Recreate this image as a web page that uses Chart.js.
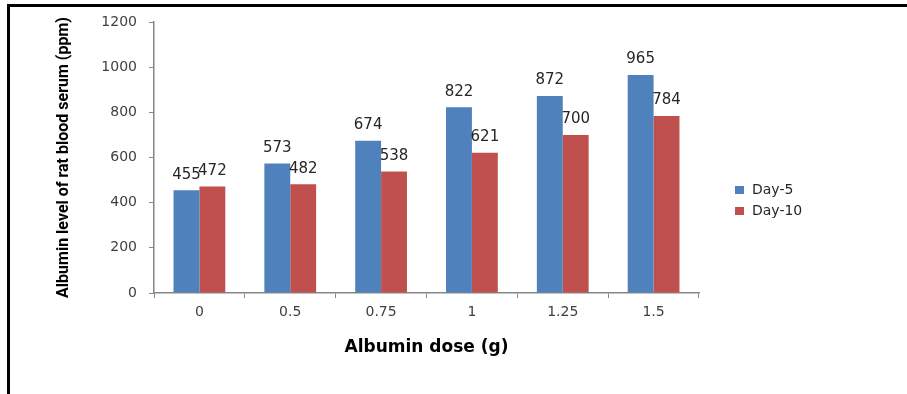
<!DOCTYPE html>
<html>
<head>
<meta charset="utf-8">
<script src="https://cdn.jsdelivr.net/npm/chart.js@4/dist/chart.umd.min.js"></script>
<style>
  html, body { margin: 0; padding: 0; background: #fff; }
  #wrap { width: 907px; height: 394px; }
</style>
</head>
<body>
<div id="wrap"><canvas id="myChart" width="907" height="394"></canvas></div>
<script>
const doses = ['0', '0.5', '0.75', '1', '1.25', '1.5']
const day5 = [455, 573, 674, 822, 872, 965]
const day10 = [472, 482, 538, 621, 700, 784]
const seriesNames = ['Day-5', 'Day-10']
const colors = ['#4F81BD', '#C0504D']

const tickFont = { family: 'DejaVu Sans', size: 14 }

// white background + the black frame lines at top and left
const framePlugin = {
  id: 'frame',
  beforeDraw(chart) {
    const c = chart.ctx
    c.save()
    c.fillStyle = '#fff'
    c.fillRect(0, 0, chart.width, chart.height)
    c.fillStyle = '#000'
    c.fillRect(7, 4, chart.width - 7, 3)
    c.fillRect(7, 4, 3, chart.height - 4)
    c.restore()
  }
}

// value labels above each bar
const labelPlugin = {
  id: 'barLabels',
  afterDatasetsDraw(chart) {
    const c = chart.ctx
    c.save()
    c.font = '15px "DejaVu Sans"'
    c.fillStyle = '#262626'
    c.textAlign = 'center'
    c.textBaseline = 'bottom'
    chart.data.datasets.forEach((ds, i) => {
      chart.getDatasetMeta(i).data.forEach((bar, j) => {
        c.fillText(ds.data[j], bar.x, bar.y - 8)
      })
    })
    c.restore()
  }
}

// legend on the right side
const legendPlugin = {
  id: 'sideLegend',
  afterDraw(chart) {
    const c = chart.ctx
    c.save()
    c.font = '14px "DejaVu Sans"'
    c.textBaseline = 'middle'
    chart.data.datasets.forEach((ds, i) => {
      const y = 190 + i * 21
      c.fillStyle = ds.backgroundColor
      c.fillRect(735, y - 4, 9, 8)
      c.fillStyle = '#262626'
      c.fillText(ds.label, 752, y)
    })
    c.restore()
  }
}

const ctx = document.getElementById('myChart')
new Chart(ctx, {
  type: 'bar',
  data: {
    labels: doses,
    datasets: [
      { label: seriesNames[0], data: day5, backgroundColor: colors[0] },
      { label: seriesNames[1], data: day10, backgroundColor: colors[1] }
    ]
  },
  options: {
    responsive: false,
    animation: false,
    devicePixelRatio: 1,
    layout: { padding: { left: 0, top: 22, right: 208, bottom: 0 } },
    datasets: {
      bar: { categoryPercentage: 0.57, barPercentage: 1, borderWidth: 0 }
    },
    plugins: {
      legend: { display: false },
      tooltip: { enabled: false }
    },
    scales: {
      x: {
        afterFit: (s) => { s.height = 101 },
        grid: { display: true, drawOnChartArea: false, tickLength: 5, color: '#868686', offset: true },
        border: { color: '#868686', width: 1.5 },
        ticks: { font: tickFont, color: '#404040', padding: 6 },
        title: {
          display: true,
          text: 'Albumin dose (g)',
          font: { family: 'DejaVu Sans', size: 17, weight: 'bold' },
          color: '#000',
          padding: { top: 0, bottom: 36 }
        }
      },
      y: {
        min: 0,
        max: 1200,
        afterFit: (s) => { s.width = 154 },
        grid: { display: true, drawOnChartArea: false, tickLength: 5, color: '#868686' },
        border: { color: '#868686', width: 1.5 },
        ticks: { stepSize: 200, font: tickFont, color: '#404040', padding: 12, callback: (v) => String(v) },
        title: {
          display: true,
          text: 'Albumin level of rat blood serum (ppm)',
          font: { family: 'Roboto', size: 16, weight: 'bold' },
          color: '#000',
          padding: { top: 54, bottom: 0 }
        }
      }
    }
  },
  plugins: [framePlugin, labelPlugin, legendPlugin]
})
</script>
</body>
</html>
